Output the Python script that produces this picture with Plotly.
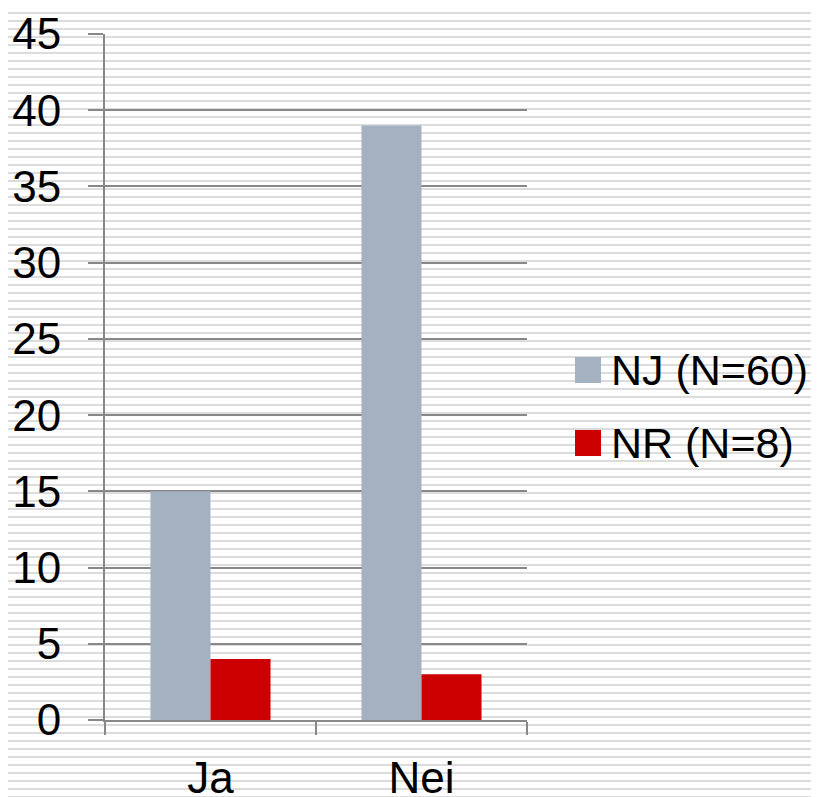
import plotly.graph_objects as go

categories = ["Ja", "Nei"]
series_names = ["NJ (N=60)", "NR (N=8)"]
nj_values = [15, 39]
nr_values = [4, 3]
y_ticks = [0, 5, 10, 15, 20, 25, 30, 35, 40, 45]

colors = ["#a3b1c0", "#cc0000"]
FONT = "Liberation Sans Narrow, Arial Narrow, Liberation Sans, sans-serif"
# page body has an 8px margin, so the figure is offset by 8px
OFF = 8
W, H = 819 - OFF, 797 - OFF
ML, MT = 105 - OFF, 34 - OFF
MB = H - (720 - OFF)
MR = W - (527 - OFF)
PW, PH = W - ML - MR, H - MT - MB

fig = go.Figure()
for name, vals, col in zip(series_names, [nj_values, nr_values], colors):
    fig.add_trace(go.Bar(x=categories, y=vals, name=name, marker_color=col,
                         marker_line_width=0, showlegend=False))

# striped background (decorative), positions in screen pixels
def px_to_paper_y(py):
    return (H - MB - (py - OFF)) / PH
def px_to_paper_x(px):
    return ((px - OFF) - ML) / PW

segs = []
y = 13
while y < 800:
    yp = px_to_paper_y(y)
    segs.append(f"M{px_to_paper_x(OFF)},{yp}H{px_to_paper_x(820)}")
    y += 8
shapes = [dict(type="path", xref="paper", yref="paper", path="".join(segs),
               line=dict(color="#dcdcdc", width=2), layer="below")]

# manual legend
annotations = []
legend_rows_px = [370, 443]
for name, col, ry in zip(series_names, colors, legend_rows_px):
    shapes.append(dict(type="rect", xref="paper", yref="paper",
                       x0=px_to_paper_x(575), x1=px_to_paper_x(601),
                       y0=px_to_paper_y(ry - 13), y1=px_to_paper_y(ry + 13),
                       fillcolor=col, line_width=0, layer="above"))
    annotations.append(dict(xref="paper", yref="paper", x=px_to_paper_x(609),
                            y=px_to_paper_y(ry), text=name, showarrow=False,
                            xanchor="left", yanchor="middle",
                            font=dict(family=FONT, size=43, color="#000")))

fig.update_layout(
    width=W, height=H,
    margin=dict(l=ML, r=MR, t=MT, b=MB, pad=0),
    paper_bgcolor="white", plot_bgcolor="rgba(0,0,0,0)",
    barmode="group", bargap=0.431, bargroupgap=0,
    showlegend=False,
    shapes=shapes, annotations=annotations,
    font=dict(family=FONT, size=44, color="#000"),
)
fig.update_yaxes(range=[0, 45], tickvals=y_ticks, showgrid=True,
                 gridcolor="#888888", gridwidth=2, showline=True,
                 linecolor="#888888", linewidth=2, ticks="outside",
                 ticklen=15, tickwidth=2, tickcolor="#888888",
                 zeroline=False, ticklabelstandoff=18, automargin=False,
                 tickfont=dict(family=FONT, size=44, color="#000"))
fig.update_xaxes(showline=True, linecolor="#888888", linewidth=2,
                 ticks="outside", tickson="boundaries", ticklen=13,
                 tickwidth=2, tickcolor="#888888", showgrid=False,
                 ticklabelstandoff=18, automargin=False,
                 tickfont=dict(family=FONT, size=44, color="#000"))

fig.write_html("out.html")
